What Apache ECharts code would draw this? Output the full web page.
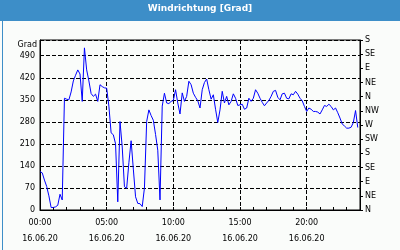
<!DOCTYPE html>
<html>
<head>
<meta charset="utf-8">
<script src="https://cdn.jsdelivr.net/npm/echarts@6/dist/echarts.min.js"></script>
<style>
html,body{margin:0;padding:0;background:#fafcfa;}
#c{width:400px;height:250px;}
</style>
</head>
<body>
<div id="c"></div>
<script>
// Title and labels
const chartTitle = 'Windrichtung [Grad]';
const leftAxisName = 'Grad';
const dateLabel = '16.06.20';
// Right axis compass tick labels (every 45°)
const compassLabels = ['N','NE','E','SE','S','SW','W','NW','N','NE','E','SE','S'];
// Time categories: 10-minute slots from 00:00 to 24:00
const timeCategories = [];
for (let h = 0; h <= 24; h++) {
  for (let m = 0; m < 60; m += 10) {
    if (h === 24 && m > 0) break;
    timeCategories.push(String(h).padStart(2,'0') + ':' + String(m).padStart(2,'0'));
  }
}
// Wind direction values [Grad], 10-minute samples
const windDirection = [
  122,118,95,75,45,8,8,10,15,50,
  32,355,352,350,375,410,428,445,432,345,
  515,445,410,370,361,368,345,398,392,388,
  387,330,245,239,210,26,281,200,74,69,
  150,220,130,42,21,20,11,70,281,318,
  300,285,240,190,32,330,371,340,338,345,
  348,382,340,305,372,345,361,409,398,371,
  358,347,324,382,405,416,382,352,366,320,
  278,318,377,340,361,334,345,369,355,332,
  334,336,320,324,355,345,355,382,371,355,
  342,331,340,348,361,377,380,358,350,369,
  371,355,353,369,366,377,368,355,347,329,
  313,324,320,313,313,311,305,318,332,329,
  336,329,318,324,309,292,273,267,260,260,
  263,278,316,262
];

const FONT = 'DejaVu Sans';
const chart = echarts.init(document.getElementById('c'), null, {renderer:'canvas'});
chart.setOption({
  animation: false,
  backgroundColor: '#fafcfa',
  graphic: [
    {type:'rect', left:0, top:0, shape:{width:400, height:21}, style:{fill:'#3d8ec8'}},
    {type:'rect', left:0, top:0, shape:{width:399, height:249}, style:{fill:null, stroke:'#3d8ec8', lineWidth:1}},
    {type:'text', x:200, y:9, style:{text:chartTitle, fill:'#ffffff', font:'bold 9px "DejaVu Sans"', textAlign:'center', textVerticalAlign:'middle'}},
    {type:'text', x:37, y:45, style:{text:leftAxisName, fill:'#000', font:'8px "DejaVu Sans"', textAlign:'right', textVerticalAlign:'middle'}}
  ],
  grid: {left:40, right:40, top:40, bottom:40, show:true, borderColor:'#000', borderWidth:1, backgroundColor:'transparent'},
  xAxis: {
    type:'category', data: timeCategories, boundaryGap:false,
    axisLine:{show:true, lineStyle:{color:'#000', width:1}},
    axisTick:{show:true, inside:true, length:3, lineStyle:{color:'#000'}, interval:(i)=> i % 6 === 0},
    axisLabel:{show:true, color:'#000', fontFamily:FONT, fontSize:8, lineHeight:16, margin:5,
      interval:(i)=> i % 30 === 0 && i < 144,
      formatter:(v)=> v + '\n' + dateLabel},
    splitLine:{show:true, interval:(i)=> i % 30 === 0 && i > 0 && i < 144, lineStyle:{color:'#000', type:[4,2], width:1}}
  },
  yAxis: [
    {type:'value', min:0, max:540, interval:70, position:'left',
      axisLine:{show:true, lineStyle:{color:'#000'}},
      axisTick:{show:false},
      axisLabel:{color:'#000', fontFamily:FONT, fontSize:8, margin:5, formatter:(v)=> v > 490 ? '' : String(v)},
      splitLine:{show:true, lineStyle:{color:'#000', type:[4,2], width:1}}},
    {type:'value', min:0, max:540, interval:45, position:'right',
      axisLine:{show:true, lineStyle:{color:'#000'}},
      axisTick:{show:true, inside:false, length:3, lineStyle:{color:'#000'}},
      axisLabel:{color:'#000', fontFamily:FONT, fontSize:8, margin:5, formatter:(v)=> compassLabels[Math.round(v/45)] || ''},
      splitLine:{show:false}}
  ],
  series: [{
    type:'line', data: windDirection, yAxisIndex:0, showSymbol:false, symbol:'none',
    lineStyle:{color:'#0000ff', width:1}, z:5
  }]
});
</script>
</body>
</html>
